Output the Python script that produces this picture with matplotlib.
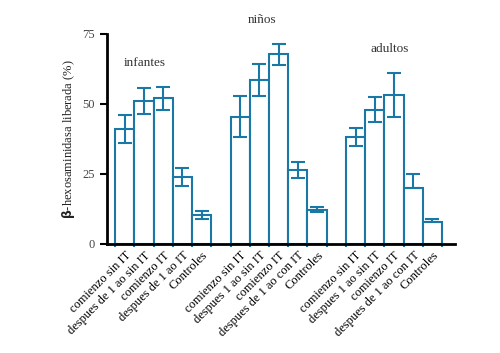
import numpy as np
import matplotlib.pyplot as plt

plt.rcParams['font.family'] = ['Liberation Serif', 'DejaVu Serif']

# data
labels = ["comienzo sin IT", "despues de 1 ao sin IT", "comienzo IT", "despues de 1 ao IT", "Controles",
          "comienzo sin IT", "despues 1 ao sin IT", "comienzo IT", "despues de 1 ao con IT", "Controles",
          "comienzo sin IT", "despues 1 ao sin IT", "comienzo IT", "despues de 1 ao con IT", "Controles"]
values = [41, 51, 52, 24, 10.5,
          45.5, 58.5, 67.7, 26.5, 12.2,
          38.3, 48, 53.2, 20.1, 7.9]
err_low = [5, 4.5, 4.2, 3.2, 1.6,
           7.3, 5.8, 3.8, 2.8, 0.9,
           3.2, 4.4, 7.8, 0, 0]
err_high = [5, 4.5, 4.2, 3, 1.3,
            7.3, 5.8, 3.6, 2.8, 1.0,
            3.2, 4.4, 7.8, 4.8, 0.9]
groups = ["infantes", "niños", "adultos"]
group_pos = [1.05, 7.15, 13.75]
group_y = [64.5, 80, 69.5]

blue = '#1a78a6'
x = np.concatenate([np.arange(5), np.arange(6, 11), np.arange(12, 17)])

fig = plt.figure(figsize=(5, 3.53), dpi=100)
ax = fig.add_axes([0.214, 0.309, 0.696, 0.595])

ax.bar(x, values, width=1, color='white', edgecolor=blue, linewidth=1.5)
ax.errorbar(x, values, yerr=[err_low, err_high], fmt='none', ecolor=blue,
            elinewidth=1.5, capsize=5, capthick=1.5)

for g, gx, gy in zip(groups, group_pos, group_y):
    ax.text(gx, gy, g, ha='center', va='center', fontsize=9.5, color='#333333')

ax.set_xlim(-0.92, 17.17)
ax.set_ylim(0, 75)
ax.set_yticks([0, 25, 50, 75])
ax.set_ylabel(r'$\mathbf{\beta}$-hexosaminidasa liberada (%)', fontsize=9, color='#222222')

ax.set_xticks(x)
ax.set_xticklabels(labels, rotation=45, ha='right', va='top', rotation_mode='anchor', fontsize=9)
ax.tick_params(axis='x', length=0, pad=4)
edges = np.concatenate([x - 0.5, x[[4, 9, 14]] + 0.5])
ax.set_xticks(edges, minor=True)
ax.tick_params(axis='x', which='minor', length=2.5, width=1.5, color=blue)
ax.tick_params(axis='y', length=5, width=1.5, labelsize=9, labelcolor='#444444')

for s in ['top', 'right']:
    ax.spines[s].set_visible(False)
for s in ['left', 'bottom']:
    ax.spines[s].set_linewidth(2)

fig.savefig('out.png', dpi=100)
